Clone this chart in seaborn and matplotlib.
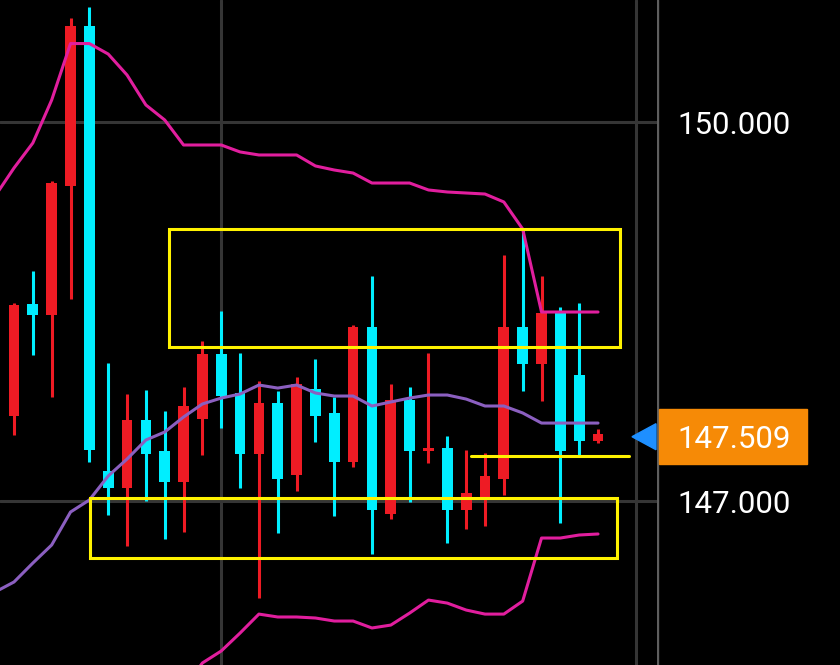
import numpy as np
import pandas as pd
import matplotlib.pyplot as plt
from matplotlib.patches import Rectangle, Polygon
import seaborn as sns

# CANDLES (red = up, cyan = down)
opens = [147.673, 148.559, 148.472, 149.496, 150.756, 147.237, 147.103, 147.641, 147.396, 147.154,
         147.649, 148.164, 147.855, 147.372, 147.776, 147.206, 147.887, 147.697, 147.309, 148.380,
         146.897, 147.799, 147.398, 147.417, 146.929, 147.021, 147.174, 148.380, 148.082, 148.486,
         147.997, 147.477]
highs = [148.567, 148.821, 149.533, 150.823, 150.907, 148.095, 147.849, 147.879, 147.716, 147.906,
         148.266, 148.504, 148.174, 147.952, 147.873, 147.981, 148.124, 147.826, 148.393, 148.781,
         147.926, 147.902, 148.174, 147.514, 147.404, 147.378, 148.947, 149.159, 148.781, 148.533,
         148.565, 147.568]
lows = [147.522, 148.156, 147.823, 148.599, 147.305, 146.891, 146.640, 147.000, 146.699, 146.751,
        147.364, 147.578, 147.105, 146.232, 146.749, 147.081, 147.467, 146.884, 147.271, 146.583,
        146.860, 146.994, 147.298, 146.665, 146.776, 146.804, 147.047, 147.873, 147.792, 146.828,
        147.364, 147.461]
closes = [148.551, 148.472, 149.517, 150.756, 147.404, 147.103, 147.641, 147.372, 147.154, 147.755,
          148.164, 147.833, 147.372, 147.776, 147.176, 147.926, 147.673, 147.311, 148.380, 146.929,
          147.799, 147.396, 147.417, 146.929, 147.061, 147.198, 148.380, 148.082, 148.490, 147.396,
          147.477, 147.531]

# BOLLINGER BANDS (first point is one bar before the chart's left edge)
band_idx = list(range(-1, 32))
upper = [149.414, 149.636, 149.834, 150.174, 150.621, 150.621, 150.538, 150.372, 150.135, 150.016,
         149.818, 149.818, 149.818, 149.763, 149.739, 149.739, 149.739, 149.652, 149.620, 149.596,
         149.517, 149.517, 149.517, 149.462, 149.446, 149.438, 149.430, 149.367, 149.153, 148.496,
         148.496, 148.496, 148.496]
middle = [146.280, 146.359, 146.509, 146.652, 146.913, 147.008, 147.198, 147.332, 147.483, 147.546,
          147.665, 147.768, 147.815, 147.847, 147.918, 147.894, 147.918, 147.855, 147.831, 147.831,
          147.752, 147.784, 147.815, 147.839, 147.839, 147.807, 147.752, 147.752, 147.697, 147.617,
          147.617, 147.617, 147.617]
lower = [143.146, 143.082, 143.184, 143.130, 143.205, 143.395, 143.858, 144.292, 144.831, 145.076,
         145.512, 145.718, 145.813, 145.955, 146.105, 146.082, 146.082, 146.074, 146.050, 146.050,
         145.995, 146.018, 146.113, 146.216, 146.192, 146.137, 146.105, 146.105, 146.208, 146.707,
         146.707, 146.731, 146.739]

# DRAWINGS
box_top = (8.23, 32.17, 148.219, 149.153)      # x0, x1, y0, y1
box_bottom = (4.03, 32.0, 146.549, 147.024)
hline = (24.26, 32.64, 147.356)
price_ticks = [150.0, 147.0]
last_price = 147.509
time_grid = [11, 33]

RED = '#EE1B24'
CYAN = '#00EEFF'
MAGENTA = '#E11E9E'
PURPLE = '#8B5FC0'
YELLOW = '#FFF200'
GRID = '#353535'

sns.set_theme(style='dark', rc={'axes.facecolor': 'black', 'figure.facecolor': 'black'})
plt.rcParams['font.family'] = ['Roboto', 'DejaVu Sans']

fig = plt.figure(figsize=(8.4, 6.65), dpi=100)
ax = fig.add_axes([0, 0, 657 / 840, 1])
ax2 = fig.add_axes([657 / 840, 0, 183 / 840, 1])

ylim = (145.702, 150.9657)
ax.set_xlim(-0.743, 34.13)
ax.set_ylim(*ylim)
ax2.set_xlim(0, 183)
ax2.set_ylim(*ylim)
for a in (ax, ax2):
    a.set_facecolor('black')
    a.set_xticks([])
    a.set_yticks([])
    a.grid(False)
    for s in a.spines.values():
        s.set_visible(False)

# GRID
for p in price_ticks:
    ax.axhline(p, color=GRID, linewidth=2.2, zorder=0)
for t in time_grid:
    ax.axvline(t, color=GRID, linewidth=2.2, zorder=0)
ax2.axvline(0, color='#5E5E5E', linewidth=2.4, zorder=0)

# CANDLES
o = np.array(opens)
c = np.array(closes)
idx = np.arange(len(o))
cols = [RED if cc >= oo else CYAN for oo, cc in zip(o, c)]
ax.vlines(idx, lows, highs, colors=cols, linewidth=2.2, zorder=2)
ax.bar(idx, np.maximum(np.abs(c - o), 0.015), bottom=np.minimum(o, c), width=0.57,
       color=cols, linewidth=0, zorder=2)

# BANDS
bands = pd.DataFrame({'idx': band_idx, 'upper': upper, 'middle': middle, 'lower': lower})
sns.lineplot(data=bands, x='idx', y='upper', ax=ax, color=MAGENTA, linewidth=2.2, sort=False, zorder=3)
sns.lineplot(data=bands, x='idx', y='lower', ax=ax, color=MAGENTA, linewidth=2.2, sort=False, zorder=3)
sns.lineplot(data=bands, x='idx', y='middle', ax=ax, color=PURPLE, linewidth=2.2, sort=False, zorder=3)
ax.set_xlabel('')
ax.set_ylabel('')
ax.set_xlim(-0.743, 34.13)
ax.set_ylim(*ylim)

# YELLOW DRAWINGS
for x0, x1, y0, y1 in (box_top, box_bottom):
    ax.add_patch(Rectangle((x0, y0), x1 - x0, y1 - y0, fill=False, edgecolor=YELLOW,
                           linewidth=2.2, zorder=4))
ax.plot([hline[0], hline[1]], [hline[2], hline[2]], color=YELLOW, linewidth=2.2, zorder=4)

# PRICE LABELS
for p in price_ticks:
    ax2.text(20, p, f'{p:.3f}', color='white', fontsize=22.5, ha='left', va='center_baseline')
ax2.add_patch(Rectangle((2, last_price - 0.218), 148, 0.436, color='#F68A06', zorder=2))
ax2.text(20, last_price, f'{last_price:.3f}', color='white', fontsize=22.5, ha='left',
         va='center_baseline', zorder=3)
ax2.add_patch(Polygon([[-25, last_price], [-1, last_price + 0.103], [-1, last_price - 0.103]],
                      closed=True, color='#1E8FFF', clip_on=False, zorder=5))

fig.savefig('out.png', dpi=100, facecolor='black')
